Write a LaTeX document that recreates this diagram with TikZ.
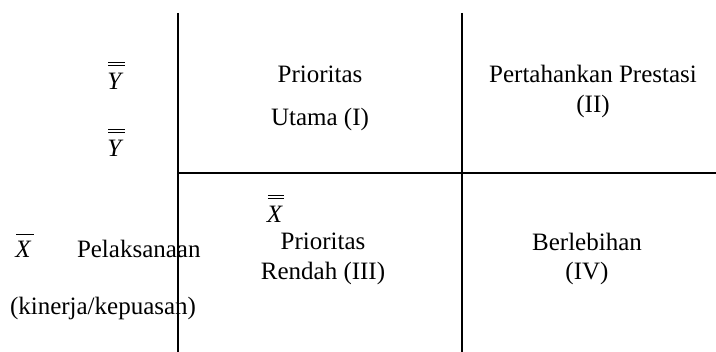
\documentclass[tikz,border=0pt]{standalone}
\usepackage{fontspec}
\setmainfont{Liberation Serif}
\begin{document}
\begin{tikzpicture}[x=1pt,y=-1pt,
  lbl/.style={inner sep=0pt,outer sep=0pt,anchor=base,font=\fontsize{25}{29}\selectfont},
  lblw/.style={lbl,anchor=base west},
  axis/.style={line width=1.4pt,black},
  barline/.style={line width=0.9pt,black}]
\useasboundingbox (0,0) rectangle (716,352);
% grid lines
\coordinate (v1t) at (178,13);
\coordinate (v1b) at (178,352);
\coordinate (v2t) at (462,13);
\coordinate (v2b) at (462,352);
\coordinate (hl) at (178,173);
\coordinate (hr) at (716,173);
\draw[axis] (v1t) -- (v1b);
\draw[axis] (v2t) -- (v2b);
\draw[axis] (hl) -- (hr);
% quadrant texts
\node[lbl] (p1) at (320,83) {Prioritas};
\node[lbl] (u1) at (320,126) {Utama (I)};
\node[lbl] (p2) at (593,83) {Pertahankan Prestasi};
\node[lbl] (ii) at (593,113) {(II)};
\node[lbl] (p3) at (323,250) {Prioritas};
\node[lbl] (r3) at (323,280) {Rendah (III)};
\node[lbl] (b4) at (587,251) {Berlebihan};
\node[lbl] (iv) at (587,280) {(IV)};
% symbols
\node[lbl] (xdd) at (275,223) {\textit{X}};
\draw[barline] ([xshift=1pt,yshift=28pt]xdd.base west) -- ([xshift=1pt,yshift=28pt]xdd.base east);
\draw[barline] ([xshift=1pt,yshift=25pt]xdd.base west) -- ([xshift=1pt,yshift=25pt]xdd.base east);
\node[lbl] (y1) at (115.5,90) {\textit{Y}};
\draw[barline] ([xshift=1pt,yshift=28pt]y1.base west) -- ([xshift=1pt,yshift=28pt]y1.base east);
\draw[barline] ([xshift=1pt,yshift=25pt]y1.base west) -- ([xshift=1pt,yshift=25pt]y1.base east);
\node[lbl] (y2) at (115.5,157) {\textit{Y}};
\draw[barline] ([xshift=1pt,yshift=28pt]y2.base west) -- ([xshift=1pt,yshift=28pt]y2.base east);
\draw[barline] ([xshift=1pt,yshift=25pt]y2.base west) -- ([xshift=1pt,yshift=25pt]y2.base east);
\node[lbl] (xb) at (23.5,258) {\textit{X}};
\draw[barline] ([xshift=1pt,yshift=24pt]xb.base west) -- ([xshift=2pt,yshift=24pt]xb.base east);
\node[lblw] (pel) at (77,258) {Pelaksanaan};
\node[lblw] (kin) at (10,315) {(kinerja/kepuasan)};
\end{tikzpicture}
\end{document}
